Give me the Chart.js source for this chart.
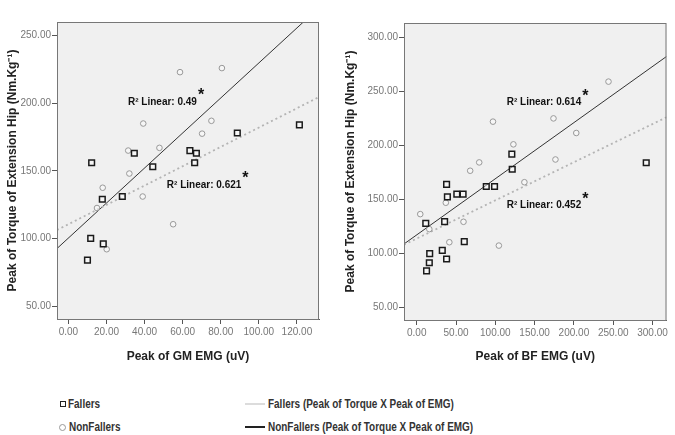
<!DOCTYPE html>
<html>
<head>
<meta charset="utf-8">
<script src="https://cdn.jsdelivr.net/npm/chart.js@4.4.0/dist/chart.umd.min.js"></script>
<style>
    body { margin: 0; width: 675px; height: 435px; background: #fff; position: relative; overflow: hidden; }
    canvas { position: absolute; top: 0; }
    #chart-gm { left: 0; }
    #chart-bf { left: 338px; }
    .legend-item { position: absolute; font-family: 'Liberation Sans', Arial, sans-serif; font-weight: bold; font-size: 12px; color: #333; line-height: 14px; white-space: nowrap; transform: scaleX(0.83); transform-origin: left center; }
    .sym-square { position: absolute; width: 4px; height: 4px; border: 1.5px solid #222; }
    .sym-circle { position: absolute; width: 5px; height: 5px; border: 1px solid #999; border-radius: 50%; }
    .sym-line { position: absolute; width: 20px; height: 2px; }
</style>
</head>
<body>
<canvas id="chart-gm" width="338" height="372"></canvas>
<canvas id="chart-bf" width="337" height="372"></canvas>

<div class="sym-square" style="left:60px; top:401px;"></div>
<div class="legend-item" style="left:68px; top:397px;">Fallers</div>
<div class="sym-circle" style="left:59px; top:424px;"></div>
<div class="legend-item" style="left:69px; top:420px;">NonFallers</div>
<div class="sym-line" style="left:245px; top:403px; background:#dcdcdc;"></div>
<div class="legend-item" style="left:268px; top:397px;">Fallers (Peak of Torque X Peak of EMG)</div>
<div class="sym-line" style="left:245px; top:426px; background:#222;"></div>
<div class="legend-item" style="left:268px; top:420px;">NonFallers (Peak of Torque X Peak of EMG)</div>

<script>
// GM chart (left)
const gmFallersX = [12.2, 34.6, 44.3, 63.8, 67.2, 66.3, 88.7, 121.3, 28.3, 17.8, 11.7, 18.3, 10.0];
const gmFallersY = [156, 163, 153, 165, 163, 156, 178, 184, 131, 129, 100, 96, 84];
const gmNonFallersX = [58.6, 80.6, 39.3, 75.1, 70.2, 47.8, 31.4, 32.0, 18.0, 39.0, 15.0, 55.0, 20.1];
const gmNonFallersY = [223, 226, 185, 187, 177.5, 167, 165, 148, 137.5, 131, 122.5, 110.5, 92];
const gmFitFallers = [110.5, 0.715];    // intercept, slope
const gmFitNonFallers = [100.3, 1.295];
const gmXRange = [-6, 131.6];
const gmYRange = [40.4, 260.1];

// BF chart (right)
const bfFallersX = [38, 39, 51, 59, 88.5, 99, 121, 121.5, 292, 11.5, 35.5, 16.5, 16, 12.5, 32.5, 38, 60.5];
const bfFallersY = [164, 152.5, 155, 155, 162, 162, 192, 178, 184, 128, 129.6, 100, 91.5, 84, 103, 95, 111];
const bfNonFallersX = [244, 97, 174, 203, 123, 79.5, 68, 176.5, 137, 37, 4.5, 16, 59.5, 41.5, 104.5];
const bfNonFallersY = [259, 222, 225, 211.5, 201, 184.3, 176.6, 187, 166, 147, 136.5, 122.6, 129.4, 110.5, 107.4];
const bfFitFallers = [113.9, 0.353];
const bfFitNonFallers = [117.3, 0.519];
const bfXRange = [-16.2, 317.8];
const bfYRange = [38.6, 313.2];

const Y_TITLE = 'Peak of Torque of Extension Hip (Nm.Kg\u207B\u00B9)';
const TICK_FONT = { family: "'Liberation Sans', Arial, sans-serif", size: 10 };
const TITLE_FONT = { family: "'Liberation Sans', Arial, sans-serif", size: 12, weight: 'bold' };

function toPoints(xs, ys) {
    return xs.map((x, i) => ({ x: x, y: ys[i] }));
}

function fitLine(fit, range) {
    return range.map(x => ({ x: x, y: fit[0] + fit[1] * x }));
}

// plot background, frame and R² labels
const plotFrame = {
    id: 'plotFrame',
    beforeDatasetsDraw(chart) {
        const { ctx, chartArea: a } = chart;
        ctx.save();
        ctx.fillStyle = '#f0f0f0';
        ctx.fillRect(a.left, a.top, a.right - a.left, a.bottom - a.top);
        ctx.restore();
    },
    afterDraw(chart, args, opts) {
        const { ctx, chartArea: a, scales } = chart;
        ctx.save();
        ctx.strokeStyle = '#777';
        ctx.lineWidth = 1;
        ctx.strokeRect(a.left + 0.5, a.top + 0.5, a.right - a.left - 1, a.bottom - a.top);
        (opts.labels || []).forEach(l => {
            const px = scales.x.getPixelForValue(l.x);
            const py = scales.y.getPixelForValue(l.y);
            ctx.font = "bold 10px 'Liberation Sans', Arial, sans-serif";
            ctx.fillStyle = '#111';
            ctx.textBaseline = 'middle';
            ctx.textAlign = 'left';
            ctx.fillText(l.text, px, py);
            const w = ctx.measureText(l.text).width;
            ctx.font = "bold 16px 'Liberation Sans', Arial, sans-serif";
            ctx.fillText('*', px + w + 1, py - 6);
        });
        ctx.restore();
    }
};

function makeChart(id, opts) {
    const canvas = document.getElementById(id);
    return new Chart(canvas, {
        type: 'scatter',
        data: {
            datasets: [
                {
                    label: 'Fallers',
                    data: toPoints(opts.fallersX, opts.fallersY),
                    pointStyle: 'rect',
                    pointRadius: 4,
                    borderColor: '#1a1a1a',
                    borderWidth: 1.5,
                    backgroundColor: 'rgba(255,255,255,0.4)'
                },
                {
                    label: 'NonFallers',
                    data: toPoints(opts.nonFallersX, opts.nonFallersY),
                    pointStyle: 'circle',
                    pointRadius: 2.8,
                    borderColor: '#999',
                    borderWidth: 1,
                    backgroundColor: 'rgba(255,255,255,0.4)'
                },
                {
                    label: 'Fallers (Peak of Torque X Peak of EMG)',
                    type: 'line',
                    data: fitLine(opts.fitFallers, opts.xRange),
                    borderColor: '#b4b4b4',
                    borderWidth: 1.8,
                    borderDash: [2, 3],
                    pointRadius: 0
                },
                {
                    label: 'NonFallers (Peak of Torque X Peak of EMG)',
                    type: 'line',
                    data: fitLine(opts.fitNonFallers, opts.xRange),
                    borderColor: '#333',
                    borderWidth: 1,
                    pointRadius: 0
                }
            ]
        },
        options: {
            responsive: false,
            animation: false,
            layout: { padding: { top: opts.top, right: opts.right, left: 0, bottom: 0 } },
            plugins: {
                legend: { display: false },
                tooltip: { enabled: false },
                plotFrame: { labels: opts.labels }
            },
            scales: {
                x: {
                    type: 'linear',
                    min: opts.xRange[0],
                    max: opts.xRange[1],
                    afterFit: s => { s.height = opts.xHeight; },
                    ticks: {
                        stepSize: opts.xStep,
                        includeBounds: false,
                        autoSkip: false,
                        maxRotation: 0,
                        padding: 2,
                        color: '#777',
                        font: TICK_FONT,
                        callback: v => v.toFixed(2)
                    },
                    grid: { drawOnChartArea: false, drawTicks: true, tickLength: 5, color: '#555' },
                    border: { display: true, color: '#555' },
                    title: { display: true, text: opts.xTitle, color: '#222', font: TITLE_FONT, padding: { top: 0, bottom: 8 } }
                },
                y: {
                    type: 'linear',
                    min: opts.yRange[0],
                    max: opts.yRange[1],
                    afterFit: s => { s.width = opts.yWidth; },
                    ticks: {
                        stepSize: 50,
                        includeBounds: false,
                        padding: 1,
                        color: '#777',
                        font: TICK_FONT,
                        callback: v => v.toFixed(2)
                    },
                    grid: { drawOnChartArea: false, drawTicks: true, tickLength: 5, color: '#555' },
                    border: { display: true, color: '#555' },
                    title: { display: true, text: Y_TITLE, color: '#222', font: TITLE_FONT, padding: { top: 5, bottom: 0 } }
                }
            }
        },
        plugins: [plotFrame]
    });
}

makeChart('chart-gm', {
    fallersX: gmFallersX, fallersY: gmFallersY,
    nonFallersX: gmNonFallersX, nonFallersY: gmNonFallersY,
    fitFallers: gmFitFallers, fitNonFallers: gmFitNonFallers,
    xRange: gmXRange, yRange: gmYRange, xStep: 20,
    xTitle: 'Peak of GM EMG (uV)',
    top: 22, right: 19, yWidth: 57, xHeight: 53,
    labels: [
        { x: 31.3, y: 201, text: 'R\u00B2 Linear: 0.49' },
        { x: 51.7, y: 139.6, text: 'R\u00B2 Linear: 0.621' }
    ]
});

makeChart('chart-bf', {
    fallersX: bfFallersX, fallersY: bfFallersY,
    nonFallersX: bfNonFallersX, nonFallersY: bfNonFallersY,
    fitFallers: bfFitFallers, fitNonFallers: bfFitNonFallers,
    xRange: bfXRange, yRange: bfYRange, xStep: 50,
    xTitle: 'Peak of BF EMG (uV)',
    top: 23, right: 8.5, yWidth: 66, xHeight: 52,
    labels: [
        { x: 114.5, y: 240, text: 'R\u00B2 Linear: 0.614' },
        { x: 114.5, y: 144.3, text: 'R\u00B2 Linear: 0.452' }
    ]
});
</script>
</body>
</html>
